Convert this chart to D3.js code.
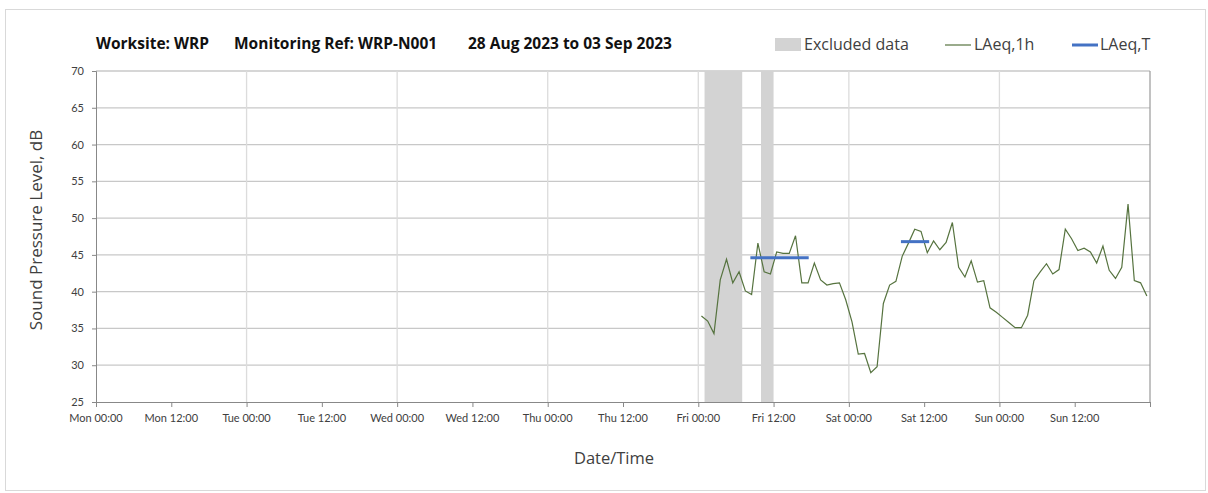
<!DOCTYPE html>
<html><head><meta charset="utf-8">
<script src="https://cdn.jsdelivr.net/npm/d3@7"></script>
<style>
html,body{margin:0;padding:0;background:#fff;}
text{font-family:Lato,"Open Sans",sans-serif;}
.os{font-family:"Open Sans",sans-serif;}
</style></head>
<body><svg id="c" width="1208" height="493"></svg>
<script>
// Hours since Mon 00:00
const tickHours = [0,12,24,36,48,60,72,84,96,108,120,132,144,156];
const tickLabels = ["Mon 00:00","Mon 12:00","Tue 00:00","Tue 12:00","Wed 00:00","Wed 12:00","Thu 00:00","Thu 12:00","Fri 00:00","Fri 12:00","Sat 00:00","Sat 12:00","Sun 00:00","Sun 12:00"];
const yTicks = [25,30,35,40,45,50,55,60,65,70];
const titleParts = ["Worksite: WRP","Monitoring Ref: WRP-N001","28 Aug 2023 to 03 Sep 2023"];
// LAeq,1h hourly values starting Fri 00:30
const laeq1hStart = 96.5;
const laeq1h = [36.7,36.0,34.3,41.6,44.4,41.2,42.7,40.1,39.6,46.6,42.7,42.4,45.4,45.2,45.2,47.6,41.2,41.2,43.9,41.6,40.9,41.1,41.2,38.9,
35.9,31.5,31.6,29.0,29.8,38.4,40.9,41.4,44.8,46.6,48.5,48.2,45.3,46.9,45.7,46.7,49.4,43.3,42.0,44.2,41.3,41.5,37.8,37.2,
36.5,35.8,35.1,35.1,36.8,41.5,42.7,43.8,42.4,43.0,48.5,47.2,45.6,45.9,45.4,43.9,46.2,42.9,41.8,43.3,51.9,41.5,41.2,39.4];
// LAeq,T segments
const laeqTStart = [104.3, 128.3];
const laeqTEnd = [113.6, 132.8];
const laeqTValue = [44.6, 46.8];
// Excluded data periods
const exclStart = [97, 106];
const exclEnd = [103, 108];

const svg = d3.select("#c");
const L=96, R=1150, T=71, B=402;
const x = d3.scaleLinear().domain([0,168]).range([L,R]);
const y = d3.scaleLinear().domain([25,70]).range([B,T]);

// outer border
svg.append("rect").attr("x",5.5).attr("y",9.5).attr("width",1200).attr("height",481)
  .attr("fill","none").attr("stroke","#d9d9d9");

// gridlines
svg.append("g").selectAll("line").data(yTicks.slice(1)).join("line")
  .attr("x1",L).attr("x2",R).attr("y1",d=>y(d)).attr("y2",d=>y(d))
  .attr("stroke","#c8c8c8").attr("stroke-width",1.3);
svg.append("g").selectAll("line").data(tickHours.filter(h=>h%24===0&&h>0)).join("line")
  .attr("x1",d=>x(d)).attr("x2",d=>x(d)).attr("y1",T).attr("y2",B)
  .attr("stroke","#dcdcdc").attr("stroke-width",1.3);

// excluded
svg.append("g").selectAll("rect").data(exclStart).join("rect")
  .attr("x",(d)=>x(d)).attr("width",(d,i)=>x(exclEnd[i])-x(d))
  .attr("y",T).attr("height",B-T).attr("fill","#d3d3d3");

// right border
svg.append("line").attr("x1",R).attr("x2",R).attr("y1",T).attr("y2",B).attr("stroke","#999").attr("stroke-width",1.2);

// axes
const xAxis = d3.axisBottom(x).tickValues(tickHours.concat([168])).tickFormat("").tickSize(5);
const gx = svg.append("g").attr("transform",`translate(0,${B})`).call(xAxis);
gx.select(".domain").attr("stroke","#888");
gx.selectAll(".tick line").attr("stroke","#888");
svg.append("g").selectAll("text").data(tickHours).join("text")
  .attr("x",d=>x(d)).attr("y",B+20).attr("text-anchor","middle")
  .attr("font-size",11).attr("fill","#404040").text((d,i)=>tickLabels[i]);

const yAxis = d3.axisLeft(y).tickValues(yTicks).tickSize(4).tickPadding(8);
const gy = svg.append("g").attr("transform",`translate(${L},0)`).call(yAxis);
gy.select(".domain").attr("stroke","#888");
gy.selectAll(".tick line").attr("stroke","#888");
gy.selectAll(".tick text").attr("font-size",11).attr("fill","#404040").attr("font-family","Lato,sans-serif");

// line
const line = d3.line().x((d,i)=>x(laeq1hStart+i)).y(d=>y(d));
svg.append("path").datum(laeq1h).attr("d",line).attr("fill","none")
  .attr("stroke","#56733f").attr("stroke-width",1.2);

// LAeq,T
svg.append("g").selectAll("line").data(laeqTValue).join("line")
  .attr("x1",(d,i)=>x(laeqTStart[i])).attr("x2",(d,i)=>x(laeqTEnd[i]))
  .attr("y1",d=>y(d)).attr("y2",d=>y(d))
  .attr("stroke","#4472c4").attr("stroke-width",3);

// title
const titleX = [96, 234, 468];
svg.append("g").selectAll("text").data(titleParts).join("text").attr("class","os")
  .attr("x",(d,i)=>titleX[i]).attr("y",49).attr("font-size",15.5).attr("font-weight","bold")
  .attr("fill","#111").text(d=>d);

// legend
const lg = svg.append("g");
lg.append("rect").attr("x",775).attr("y",38).attr("width",26).attr("height",13).attr("fill","#d3d3d3");
lg.append("text").attr("class","os").attr("x",804).attr("y",50).attr("font-size",16).attr("fill","#404040").text("Excluded data");
lg.append("line").attr("x1",945).attr("x2",971).attr("y1",45).attr("y2",45).attr("stroke","#56733f").attr("stroke-width",1.2);
lg.append("text").attr("class","os").attr("x",974).attr("y",50).attr("font-size",16).attr("fill","#404040").text("LAeq,1h");
lg.append("line").attr("x1",1072).attr("x2",1098).attr("y1",45).attr("y2",45).attr("stroke","#4472c4").attr("stroke-width",3);
lg.append("text").attr("class","os").attr("x",1100).attr("y",50).attr("font-size",16).attr("fill","#404040").text("LAeq,T");

// axis titles
svg.append("text").attr("class","os").attr("x",614).attr("y",464).attr("text-anchor","middle").attr("font-size",16.5)
  .attr("fill","#404040").text("Date/Time");
svg.append("text").attr("class","os").attr("transform","translate(42,230) rotate(-90)").attr("text-anchor","middle")
  .attr("font-size",17).attr("fill","#404040").text("Sound Pressure Level, dB");
</script></body></html>
